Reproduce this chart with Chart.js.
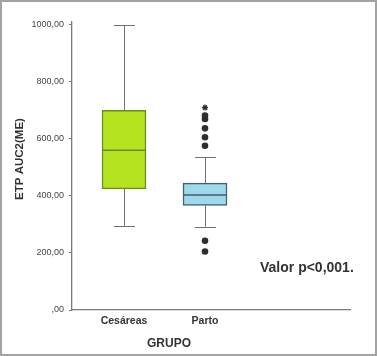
<!DOCTYPE html>
<html>
<head>
<meta charset="utf-8">
<script src="https://cdn.jsdelivr.net/npm/chart.js@4/dist/chart.umd.min.js"></script>
<style>
html,body{margin:0;padding:0;background:#fff;}
#wrap{width:377px;height:356px;position:relative;}
</style>
</head>
<body>
<div id="wrap"><canvas id="c" width="377" height="356"></canvas></div>
<script>
// ---- data ----
const categories = ['Cesáreas', 'Parto'];
const whiskerLow  = [295, 292];
const q1          = [425, 367];
const median      = [560, 403];
const q3          = [700, 445];
const whiskerHigh = [998, 536];
const outliersParto = [243, 205, 576, 606, 637, 670, 682];
const extremesParto = [710];
const yTicks = [0, 200, 400, 600, 800, 1000];
const boxFill = ['#b3e31f', '#9fd8ea'];
const boxBorder = ['#6a8a1c', '#41606c'];

const fmt = v => v === 0 ? ',00' : v.toFixed(2).replace('.', ',');

const boxPlugin = {
  id: 'boxParts',
  beforeDatasetsDraw(chart) {
    const ctx = chart.ctx, xs = chart.scales.x, ys = chart.scales.y;
    ctx.save();
    ctx.strokeStyle = '#707070';
    ctx.lineWidth = 1;
    categories.forEach((c, i) => {
      const x = Math.round(xs.getPixelForValue(i)) + 0.5;
      const yLo = ys.getPixelForValue(whiskerLow[i]);
      const yHi = ys.getPixelForValue(whiskerHigh[i]);
      const yQ1 = ys.getPixelForValue(q1[i]);
      const yQ3 = ys.getPixelForValue(q3[i]);
      ctx.beginPath();
      ctx.moveTo(x, yQ3); ctx.lineTo(x, yHi);
      ctx.moveTo(x, yQ1); ctx.lineTo(x, yLo);
      ctx.moveTo(x - 10.5, Math.round(yHi) + 0.5); ctx.lineTo(x + 10.5, Math.round(yHi) + 0.5);
      ctx.moveTo(x - 10.5, Math.round(yLo) + 0.5); ctx.lineTo(x + 10.5, Math.round(yLo) + 0.5);
      ctx.stroke();
    });
    ctx.restore();
  },
  afterDatasetsDraw(chart) {
    const ctx = chart.ctx, xs = chart.scales.x, ys = chart.scales.y;
    ctx.save();
    ctx.lineWidth = 1.5;
    categories.forEach((c, i) => {
      const x = xs.getPixelForValue(i);
      const y = ys.getPixelForValue(median[i]);
      ctx.strokeStyle = boxBorder[i];
      ctx.beginPath();
      ctx.moveTo(x - 21.5, y); ctx.lineTo(x + 21.5, y);
      ctx.stroke();
    });
    ctx.restore();
  },
  afterDraw(chart) {
    const ctx = chart.ctx;
    ctx.save();
    ctx.fillStyle = '#333';
    ctx.textBaseline = 'middle';
    ctx.textAlign = 'center';
    ctx.font = 'bold 12px "Liberation Sans", Arial, sans-serif';
    ctx.fillText('GRUPO', 169, 344);
    ctx.textAlign = 'left';
    ctx.font = 'bold 14px "Liberation Sans", Arial, sans-serif';
    ctx.fillText('Valor p<0,001.', 260, 268);
    ctx.translate(20, 159);
    ctx.rotate(-Math.PI / 2);
    ctx.textAlign = 'center';
    ctx.font = 'bold 11.5px "Liberation Sans", Arial, sans-serif';
    ctx.fillText('ETP AUC2(ME)', 0, 0);
    ctx.restore();
    ctx.save();
    ctx.strokeStyle = '#a3a3a3';
    ctx.lineWidth = 2;
    ctx.strokeRect(1, 1, 375, 354);
    ctx.restore();
  }
};

new Chart(document.getElementById('c'), {
  data: {
    datasets: [
      {
        type: 'bar',
        data: categories.map((c, i) => ({ x: i, y: [q1[i], q3[i]] })),
        backgroundColor: boxFill,
        borderColor: boxBorder,
        borderWidth: 1.5,
        borderSkipped: false,
        barThickness: 44,
        grouped: false,
        order: 2
      },
      {
        type: 'scatter',
        data: outliersParto.map(v => ({ x: 1, y: v })),
        pointStyle: 'circle',
        pointRadius: 3.3,
        backgroundColor: '#2e2e2e',
        borderColor: '#2e2e2e',
        borderWidth: 0,
        order: 1
      },
      {
        type: 'scatter',
        data: extremesParto.map(v => ({ x: 1, y: v })),
        pointStyle: 'star',
        pointRadius: 3,
        borderColor: '#2e2e2e',
        borderWidth: 1.3,
        order: 1
      }
    ]
  },
  options: {
    responsive: false,
    animation: false,
    events: [],
    layout: { padding: { left: 0, right: 27, top: 22, bottom: 0 } },
    plugins: { legend: { display: false }, tooltip: { enabled: false } },
    scales: {
      x: {
        type: 'linear',
        offset: false,
        min: -0.642,
        max: 2.79,
        afterBuildTicks: s => { s.ticks = categories.map((c, i) => ({ value: i })); },
        afterFit: s => { s.height = 46; },
        grid: { display: false, drawTicks: false, offset: false },
        border: { display: true, color: '#7a7a7a', width: 1.3 },
        ticks: {
          padding: 5,
          color: '#333',
          font: { family: '"Liberation Sans", Arial, sans-serif', size: 10.5, weight: 'bold' },
          callback: v => categories[v] !== undefined ? categories[v] : ''
        }
      },
      y: {
        type: 'linear',
        min: 0,
        max: 1010,
        afterBuildTicks: s => { s.ticks = yTicks.map(v => ({ value: v })); },
        afterFit: s => { s.width = 72; },
        grid: { drawOnChartArea: false, drawTicks: true, tickLength: 3, color: '#7a7a7a' },
        border: { display: true, color: '#7a7a7a', width: 1.3 },
        ticks: {
          padding: 5,
          color: '#444',
          font: { family: '"Liberation Sans", Arial, sans-serif', size: 9 },
          callback: v => fmt(v)
        }
      }
    }
  },
  plugins: [boxPlugin]
});
</script>
</body>
</html>
